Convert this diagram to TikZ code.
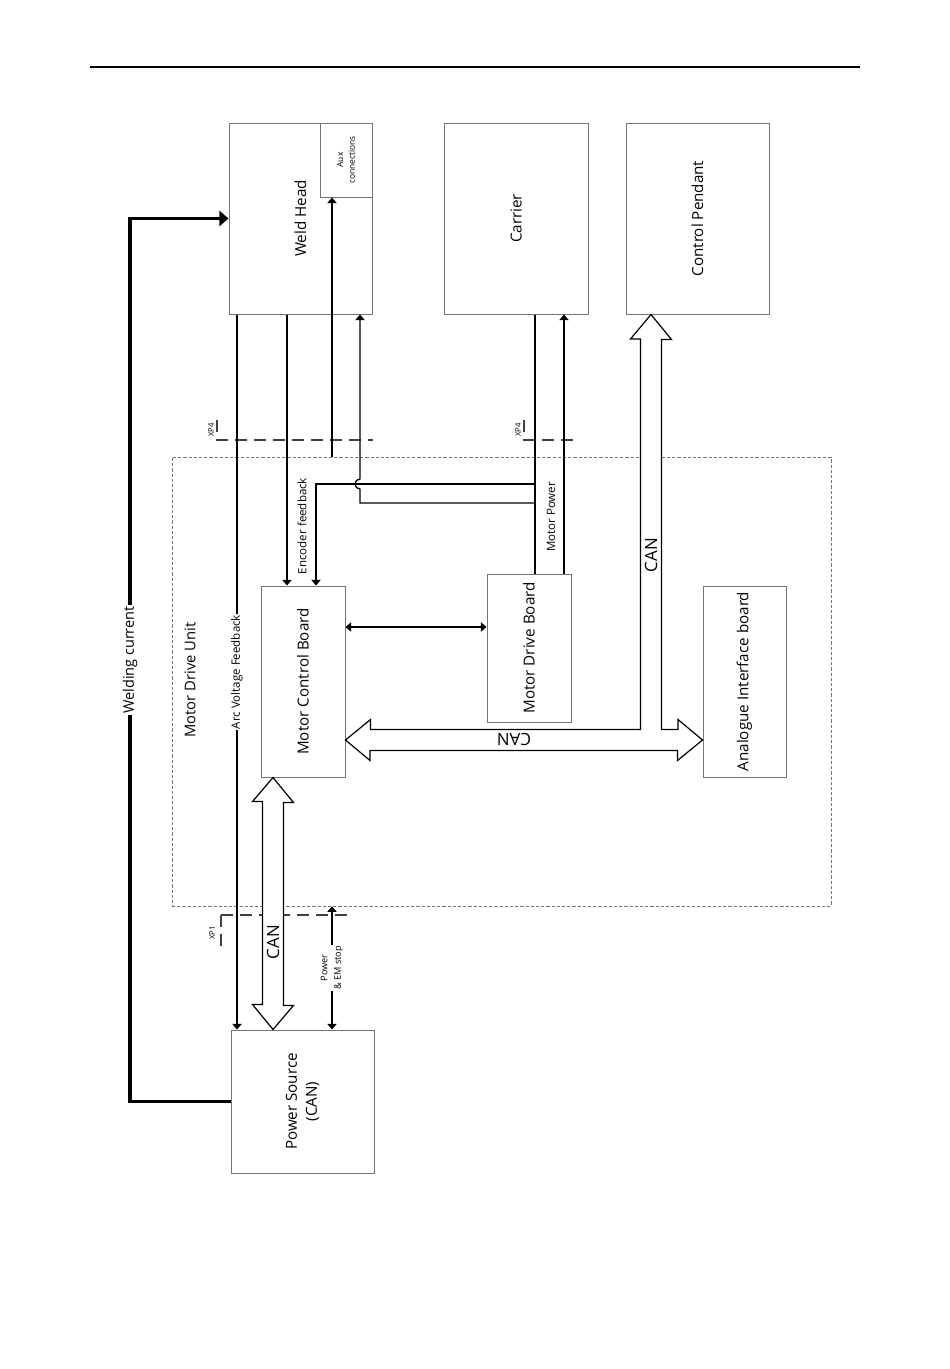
\documentclass[tikz,border=0pt]{standalone}
\usepackage{fontspec}
\setmainfont{Open Sans}
\usetikzlibrary{arrows.meta}
\usetikzlibrary{fit}

\begin{document}
\begin{tikzpicture}[x=0.25mm, y=-0.25mm,
  block/.style={draw=black!55, line width=0.25mm, inner sep=0pt},
  boxlabel/.style={rotate=90, align=center, inner sep=0pt, font=\fontsize{10.8}{14.2}\selectfont},
  mdubox/.style={draw=black!55, line width=0.15mm, dash pattern=on 0.8mm off 0.5mm, inner sep=0pt},
  wire/.style={line width=0.33mm},
  onearrow/.style={-{Triangle[length=1.4mm, width=2.3mm]}},
  twoarrow/.style={{Triangle[length=1.4mm, width=2.3mm]}-{Triangle[length=1.4mm, width=2.3mm]}},
  fatbus/.style={line width=0.3mm, fill=white},
  xpline/.style={draw=black!75, line width=0.38mm, dash pattern=on 3mm off 1.75mm},
  wirelabel/.style={rotate=90, inner sep=1pt, font=\fontsize{8.2}{10}\selectfont},
  canlabel/.style={inner sep=0pt, font=\fontsize{12}{14}\selectfont},
  xplabel/.style={rotate=90, inner sep=0pt, font=\fontsize{5.5}{6.5}\selectfont}]
\useasboundingbox (0,0) rectangle (950,1369);
\draw[line width=0.5mm] (90,67) -- (860,67);

% units
\node[block, fit={(229,123) (372,314)}, label={[boxlabel]center:Weld Head}] (wh) {};
\node[block, fit={(320,123) (372,197)}, label={[boxlabel, font=\fontsize{6}{8.3}\selectfont]center:{Aux\\connections}}] (aux) {};
\node[block, fit={(444,123) (588,314)}, label={[boxlabel]center:Carrier}] (car) {};
\node[block, fit={(626,123) (769,314)}, label={[boxlabel]center:Control Pendant}] (cp) {};
\node[mdubox, fit={(172,457) (831,906)}] (mdu) {};
\node[rotate=90, font=\fontsize{10.5}{12}\selectfont] (mdulabel) at (190,680) {Motor Drive Unit};
\node[block, fit={(261,586) (345,777)}, label={[boxlabel]center:Motor Control Board}] (mcb) {};
\node[block, fit={(487,574) (571,722)}, label={[boxlabel]center:Motor Drive Board}] (mdb) {};
\node[block, fit={(703,586) (786,777)}, label={[boxlabel]center:Analogue Interface board}] (aib) {};
\node[block, fit={(231,1030) (374,1173)}, label={[boxlabel]center:{Power Source\\(CAN)}}] (ps) {};

% connectors
\draw[xpline] (217,420) -- (217,440) -- (373,440);
\node[xplabel] (xp4a) at (211,430) {XP4};
\draw[xpline] (524,420) -- (524,440) -- (575,440);
\node[xplabel] (xp4b) at (518,430) {XP4};
\draw[xpline] (221,915) -- (221,949);
\draw[xpline] (221,915) -- (352,915);
\node[xplabel] (xp1) at (212,933) {XP1};

\draw[line width=0.8mm, -{Triangle[length=2.3mm, width=3.8mm]}] (ps.west) -- (130,0 |- ps.west) -- node[wirelabel, fill=white, font=\fontsize{10.3}{12}\selectfont] {Welding current} (130,0 |- wh.west) -- (wh.west);
\draw[wire, onearrow] (237,0 |- wh.south) -- node[wirelabel, fill=white] {Arc Voltage Feedback} (237,0 |- ps.north);
\draw[wire, onearrow] (287,0 |- wh.south) -- (287,0 |- mcb.north);
\node[wirelabel] (enclabel) at (302,526) {Encoder feedback};
\draw[wire, onearrow] (332,0 |- mdu.north) -- (332,0 |- aux.south);
\draw[wire] (535,0 |- car.south) -- (535,0 |- mdb.north);
\draw[wire, onearrow] (535,484) -| (316,0 |- mcb.north);
\draw[wire, onearrow] (535,503) -- (360,503) -- (360,489) arc[start angle=90, end angle=270, radius=5] -- (360,0 |- wh.south);
\draw[wire, onearrow] (564,0 |- mdb.north) -- (564,0 |- car.south);
\node[wirelabel] (mplabel) at (551,517) {Motor Power};
\draw[wire, twoarrow] (mcb.east |- 0,627) -- (mdb.west |- 0,627);
\draw[wire, twoarrow] (332,0 |- mdu.south) -- node[wirelabel, fill=white, align=center, font=\fontsize{6.5}{9.5}\selectfont] {Power\\\& EM stop} (332,0 |- ps.north);

% CAN buses
\draw[fatbus] (mcb.east |- 0,740) -- ++(25,-20.5) -- ++(0,10) -- (640.5,729.5) -- (640.5,339) -- ++(-10,0) -- (651,0 |- cp.south) -- ++(20.5,25) -- ++(-10,0) -- (661.5,729.5) -- ++(16.5,0) -- ++(0,-10) -- (aib.west |- 0,740) -- ++(-25,20.5) -- ++(0,-10) -- (370,750.5) -- ++(0,10) -- cycle;
\draw[fatbus] (273,0 |- mcb.south) -- ++(20.5,25) -- ++(-10,0) -- ++(0,203) -- ++(10,0) -- (273,0 |- ps.north) -- ++(-20.5,-25) -- ++(10,0) -- ++(0,-203) -- ++(-10,0) -- cycle;
\node[canlabel, rotate=180] (canh) at (514,740) {CAN};
\node[canlabel, rotate=90] (canv) at (651,555) {CAN};
\node[canlabel, rotate=90] (canps) at (273,942) {CAN};
\end{tikzpicture}
\end{document}
